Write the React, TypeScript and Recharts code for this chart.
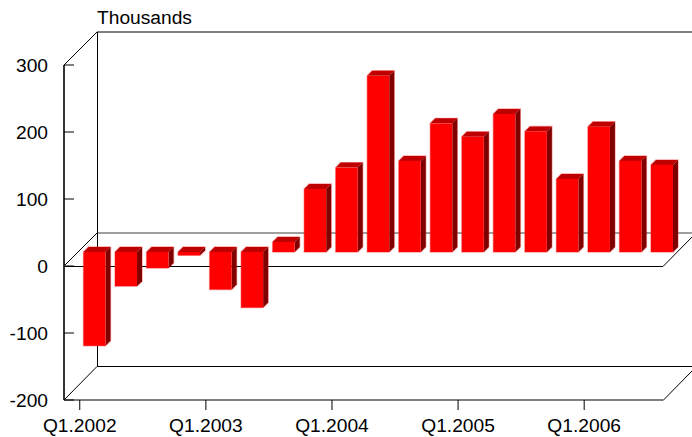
import { BarChart, Bar, XAxis, YAxis, Customized } from 'recharts';

const categories = [
  'Q1.2002', 'Q2.2002', 'Q3.2002', 'Q4.2002',
  'Q1.2003', 'Q2.2003', 'Q3.2003', 'Q4.2003',
  'Q1.2004', 'Q2.2004', 'Q3.2004', 'Q4.2004',
  'Q1.2005', 'Q2.2005', 'Q3.2005', 'Q4.2005',
  'Q1.2006', 'Q2.2006', 'Q3.2006',
];
const values = [-140, -51, -24, -5, -56, -83, 15, 94, 126, 263, 136, 192, 172, 206, 180, 109, 187, 136, 130];
const yTicks = [-200, -100, 0, 100, 200, 300];

const chartData = categories.map((quarter, i) => ({ quarter, value: values[i] }));

const FONT = '"Liberation Sans", Arial, sans-serif';
const FONT_SIZE = 19.2;

// bars sit half way into the floor depth
const SHIFT_X = 14.5;
const SHIFT_Y = 14;
const DEPTH = 5;

function Bar3D(props: any) {
  const { x, y, width, height } = props;
  const left = x + SHIFT_X;
  const right = left + width;
  const top = Math.min(y, y + height) - SHIFT_Y;
  const bottom = Math.max(y, y + height) - SHIFT_Y;
  return (
    <g>
      <path
        d={`M${left},${bottom} V${top} L${left + DEPTH},${top - DEPTH} H${right + DEPTH} V${bottom - DEPTH} L${right},${bottom} Z`}
        fill="none"
        stroke="#ff0000"
        strokeOpacity={0.35}
        strokeWidth={1.4}
      />
      <polygon
        points={`${left},${top} ${left + DEPTH},${top - DEPTH} ${right + DEPTH},${top - DEPTH} ${right},${top}`}
        fill="#bf0000"
      />
      <polygon
        points={`${right},${top} ${right + DEPTH},${top - DEPTH} ${right + DEPTH},${bottom - DEPTH} ${right},${bottom}`}
        fill="#800000"
      />
      <rect x={left} y={top} width={width} height={bottom - top} fill="#ff0000" />
    </g>
  );
}

function YTick(props: any) {
  const { x, y, payload } = props;
  return (
    <g>
      <line x1={x} y1={y} x2={x + 10} y2={y} stroke="#000" />
      <text x={x - 16} y={y + 6.5} textAnchor="end" fontFamily={FONT} fontSize={FONT_SIZE} fill="#000">
        {payload.value}
      </text>
    </g>
  );
}

function XTick(props: any) {
  const { x, y, payload } = props;
  return (
    <text x={x} y={y + 22} textAnchor="middle" fontFamily={FONT} fontSize={FONT_SIZE} fill="#000">
      {payload.value}
    </text>
  );
}

// walls and floor behind the bars
function BackFrame() {
  return (
    <g fill="none" stroke="#000">
      <path d="M64,65 L97,32 H692" />
      <path d="M97.5,32 V367" />
      <path d="M64,400 L97,366.5 H692" />
      <path d="M64,266 L97,233" />
      <path d="M97,233 H692" strokeOpacity={0.75} />
      <path d="M663,400.5 L692,371" />
      <text x={97} y={24} fontFamily={FONT} fontSize={FONT_SIZE} fill="#000" stroke="none">
        Thousands
      </text>
    </g>
  );
}

// zero plane front edge runs over the bars
function FrontFrame() {
  return <path d="M64,266.5 H663 L692,237" fill="none" stroke="#000" />;
}

export default function App() {
  return (
    <div style={{ position: 'absolute', left: 0, top: 0, width: 692, height: 437, background: '#fff' }}>
      <BarChart
        width={692}
        height={437}
        data={chartData}
        margin={{ top: 65, right: 29, bottom: 0, left: 0 }}
        barSize={22}
      >
        <Customized component={BackFrame} />
        <XAxis
          dataKey="quarter"
          interval={3}
          height={37}
          stroke="#000"
          tickSize={10}
          tickMargin={0}
          tick={<XTick />}
        />
        <YAxis
          width={64}
          domain={[-200, 300]}
          ticks={yTicks}
          stroke="#000"
          strokeWidth={2}
          strokeOpacity={0.8}
          tickLine={false}
          tickSize={0}
          tickMargin={0}
          tick={<YTick />}
        />
        <Bar dataKey="value" shape={<Bar3D />} isAnimationActive={false} />
        <Customized component={FrontFrame} />
      </BarChart>
    </div>
  );
}
